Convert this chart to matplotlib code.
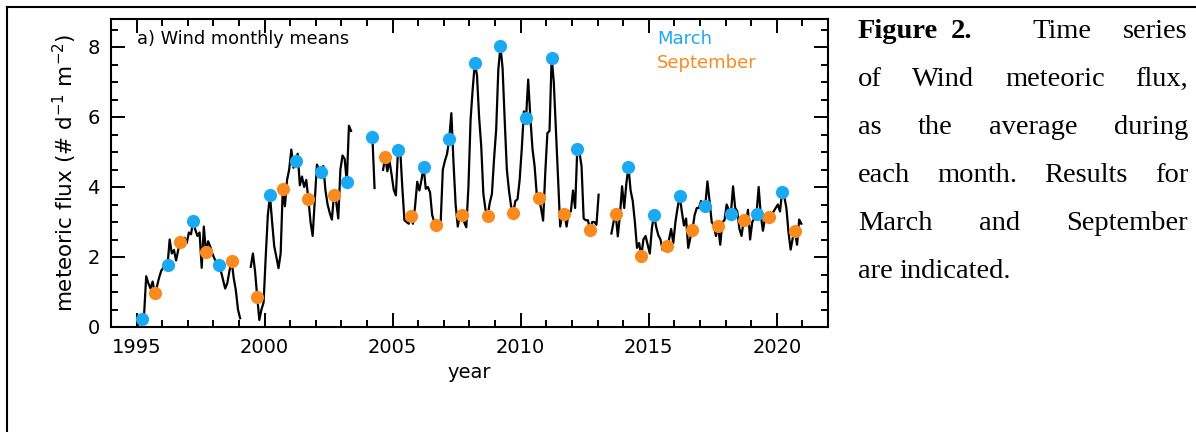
import numpy as np
import matplotlib
matplotlib.use("Agg")
import matplotlib.pyplot as plt
from matplotlib.lines import Line2D
from matplotlib.ticker import MultipleLocator

nan = np.nan

# Wind meteoric flux, monthly means (# d^-1 m^-2), Jan..Dec
y1995 = [0.05, 0.10, 0.23, 0.35, 1.45, 1.25, 1.10, 1.30, 0.97, 1.15, 1.40, 1.60]
y1996 = [1.70, 1.80, 1.78, 2.50, 2.10, 2.20, 1.90, 2.20, 2.43, 2.40, 2.55, 2.40]
y1997 = [2.70, 2.65, 3.04, 2.78, 2.60, 2.70, 1.69, 2.87, 2.14, 2.45, 2.30, 2.10]
y1998 = [1.95, 1.85, 1.77, 1.60, 1.35, 1.10, 1.25, 1.60, 1.90, 1.40, 1.05, 0.50]
y1999 = [0.25, nan, nan, nan, nan, 1.72, 2.10, 1.60, 0.87, 0.20, 0.50, 0.70]
y2000 = [2.00, 3.20, 3.76, 3.00, 2.30, 2.00, 1.68, 2.10, 3.95, 3.45, 4.20, 4.50]
y2001 = [5.07, 4.55, 4.75, 4.95, 4.05, 4.30, 4.00, 4.20, 3.66, 3.00, 2.60, 3.60]
y2002 = [4.64, 4.50, 4.42, 4.60, 3.90, 3.50, 3.26, 3.07, 3.78, 3.60, 3.10, 4.50]
y2003 = [4.90, 4.80, 4.14, 5.75, 5.60, nan, nan, nan, nan, nan, nan, nan]
y2004 = [nan, nan, 5.43, 3.97, nan, nan, nan, 4.49, 4.86, 4.45, 4.75, 4.35]
y2005 = [3.92, 3.76, 5.07, 5.10, 4.00, 3.05, 3.00, 2.95, 3.16, 2.95, 3.45, 4.15]
y2006 = [3.90, 4.20, 4.58, 3.95, 4.00, 3.85, 3.20, 3.00, 2.91, 2.95, 3.00, 4.50]
y2007 = [4.75, 4.95, 5.38, 6.11, 4.70, 3.50, 2.87, 3.20, 3.21, 3.00, 2.85, 4.00]
y2008 = [5.92, 6.80, 7.54, 7.20, 6.00, 5.16, 3.80, 3.35, 3.16, 3.55, 3.80, 4.80]
y2009 = [5.64, 7.35, 8.02, 7.40, 5.90, 4.50, 3.90, 3.45, 3.27, 3.60, 3.65, 4.20]
y2010 = [5.10, 6.16, 5.97, 7.07, 6.00, 5.10, 4.60, 3.80, 3.69, 3.40, 3.04, 4.40]
y2011 = [5.54, 5.60, 7.70, 7.00, 5.60, 4.20, 2.87, 3.25, 3.23, 2.87, 3.30, 3.30]
y2012 = [3.90, 3.40, 5.09, 5.00, 4.60, 3.10, 3.05, 3.05, 2.78, 3.00, 3.00, 2.92]
y2013 = [3.78, nan, nan, nan, nan, nan, 2.67, 3.00, 3.23, 2.59, 3.20, 4.02]
y2014 = [3.40, 4.10, 4.58, 3.90, 3.60, 3.00, 2.26, 2.40, 2.02, 2.50, 2.60, 2.35]
y2015 = [2.10, 2.84, 3.21, 2.85, 2.62, 2.50, 2.20, 2.30, 2.32, 2.50, 2.80, 2.40]
y2016 = [3.00, 3.40, 3.75, 3.30, 2.90, 3.10, 2.26, 2.55, 2.78, 3.20, 3.40, 3.40]
y2017 = [3.60, 3.50, 3.47, 4.16, 3.60, 3.00, 2.90, 2.60, 2.90, 2.35, 3.00, 3.05]
y2018 = [3.50, 3.35, 3.24, 4.02, 3.40, 3.30, 2.80, 2.60, 3.07, 2.90, 3.35, 2.50]
y2019 = [3.00, 3.10, 3.23, 4.00, 3.20, 2.75, 3.10, 3.00, 3.14, 3.20, 3.30, 3.40]
y2020 = [3.50, 3.30, 3.87, 3.73, 3.40, 2.70, 2.21, 2.55, 2.73, 2.35, 3.07, 2.95]

years = list(range(1995, 2021))
yearly = [y1995, y1996, y1997, y1998, y1999, y2000, y2001, y2002, y2003,
          y2004, y2005, y2006, y2007, y2008, y2009, y2010, y2011, y2012,
          y2013, y2014, y2015, y2016, y2017, y2018, y2019, y2020]

march_color = "#1ca9f4"
sept_color = "#f98a1e"

caption = [
    [("Figure", "bold"), ("2.", "bold"), ("Time", "normal"), ("series", "normal")],
    [("of", "normal"), ("Wind", "normal"), ("meteoric", "normal"), ("flux,", "normal")],
    [("as", "normal"), ("the", "normal"), ("average", "normal"), ("during", "normal")],
    [("each", "normal"), ("month.", "normal"), ("Results", "normal"), ("for", "normal")],
    [("March", "normal"), ("and", "normal"), ("September", "normal")],
    [("are", "normal"), ("indicated.", "normal")],
]
gap_weights = [[1, 5, 2.6], None, None, None, None, None]
justified = [True, True, True, True, True, False]

# ---- build series
t = np.array([y + (m - 0.5) / 12 for y in years for m in range(1, 13)])
flux = np.array([v for yr in yearly for v in yr], dtype=float)
month = np.array([m for y in years for m in range(1, 13)])

W, H = 1196, 432
fig = plt.figure(figsize=(W / 100, H / 100), dpi=100)
plt.rcParams["font.family"] = "DejaVu Sans"

ax = fig.add_axes([111 / W, 1 - 327 / H, 717 / W, 308 / H])
ax.plot(t, flux, color="black", lw=1.6, zorder=2)

for mm, col in ((3, march_color), (9, sept_color)):
    sel = (month == mm) & ~np.isnan(flux)
    ax.plot(t[sel], flux[sel], "o", color=col, ms=9.5, mec="none", zorder=3)

ax.set_xlim(1994, 2022)
ax.set_ylim(0, 8.8)
ax.xaxis.set_major_locator(MultipleLocator(5))
ax.xaxis.set_minor_locator(MultipleLocator(1))
ax.yaxis.set_major_locator(MultipleLocator(2))
ax.yaxis.set_minor_locator(MultipleLocator(0.5))
ax.tick_params(which="both", direction="in", top=True, right=True, width=1.4,
               labelsize=14)
ax.tick_params(which="major", length=10, pad=8)
ax.tick_params(which="minor", length=5)
for s in ax.spines.values():
    s.set_linewidth(1.5)

ax.set_xlabel("year", fontsize=14, labelpad=4)
ax.set_ylabel("meteoric flux (# d$^{-1}$ m$^{-2}$)", fontsize=15.5, labelpad=6)

ax.text(0.036, 0.935, "a) Wind monthly means", transform=ax.transAxes,
        fontsize=12.8, va="center", ha="left")
ax.text(0.7615, 0.935, "March", transform=ax.transAxes, fontsize=13,
        color=march_color, va="center")
ax.text(0.7615, 0.858, "September", transform=ax.transAxes, fontsize=13,
        color=sept_color, va="center")

# frame of the page cell
fig.add_artist(Line2D([7 / W, 1], [1 - 7 / H, 1 - 7 / H], transform=fig.transFigure,
                      color="black", lw=1.5))
fig.add_artist(Line2D([7 / W, 7 / W], [0, 1 - 7 / H], transform=fig.transFigure,
                      color="black", lw=1.5))

# justified caption
fig.canvas.draw()
r = fig.canvas.get_renderer()
left, right = 858, 1188
base0, step = 38, 48
cap_size = 20.5
for i, words in enumerate(caption):
    yb = 1 - (base0 + i * step) / H
    txts = [fig.text(0, yb, w, fontweight=fw, family="Liberation Serif",
                     fontsize=cap_size, va="baseline", ha="left") for w, fw in words]
    widths = [tx.get_window_extent(r).width for tx in txts]
    wts = gap_weights[i] or [1] * (len(words) - 1)
    if justified[i]:
        gap = (right - left - sum(widths)) / sum(wts)
    else:
        gap = 0.25 * cap_size * 100 / 72
    x = left
    for k, tx in enumerate(txts):
        tx.set_x(x / W)
        x += widths[k] + (gap * wts[k] if k < len(wts) else 0)

fig.savefig("out.png", dpi=100)
